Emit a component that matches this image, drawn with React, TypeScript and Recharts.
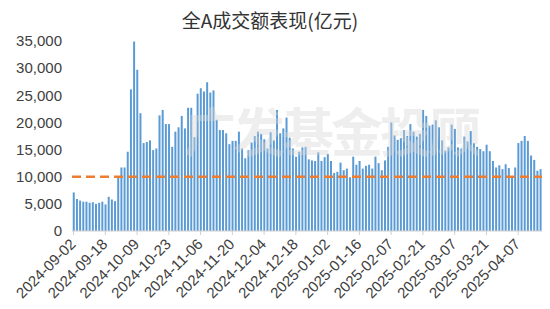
import React from 'react';
import { BarChart, Bar, XAxis, YAxis, ReferenceLine } from 'recharts';

const dates = [
  '2024-09-02', '2024-09-03', '2024-09-04', '2024-09-05', '2024-09-06', '2024-09-09', '2024-09-10', '2024-09-11', '2024-09-12', '2024-09-13',
  '2024-09-18', '2024-09-19', '2024-09-20', '2024-09-23', '2024-09-24', '2024-09-25', '2024-09-26', '2024-09-27', '2024-09-30', '2024-10-08',
  '2024-10-09', '2024-10-10', '2024-10-11', '2024-10-14', '2024-10-15', '2024-10-16', '2024-10-17', '2024-10-18', '2024-10-21', '2024-10-22',
  '2024-10-23', '2024-10-24', '2024-10-25', '2024-10-28', '2024-10-29', '2024-10-30', '2024-10-31', '2024-11-01', '2024-11-04', '2024-11-05',
  '2024-11-06', '2024-11-07', '2024-11-08', '2024-11-11', '2024-11-12', '2024-11-13', '2024-11-14', '2024-11-15', '2024-11-18', '2024-11-19',
  '2024-11-20', '2024-11-21', '2024-11-22', '2024-11-25', '2024-11-26', '2024-11-27', '2024-11-28', '2024-11-29', '2024-12-02', '2024-12-03',
  '2024-12-04', '2024-12-05', '2024-12-06', '2024-12-09', '2024-12-10', '2024-12-11', '2024-12-12', '2024-12-13', '2024-12-16', '2024-12-17',
  '2024-12-18', '2024-12-19', '2024-12-20', '2024-12-23', '2024-12-24', '2024-12-25', '2024-12-26', '2024-12-27', '2024-12-30', '2024-12-31',
  '2025-01-02', '2025-01-03', '2025-01-06', '2025-01-07', '2025-01-08', '2025-01-09', '2025-01-10', '2025-01-13', '2025-01-14', '2025-01-15',
  '2025-01-16', '2025-01-17', '2025-01-20', '2025-01-21', '2025-01-22', '2025-01-23', '2025-01-24', '2025-01-27', '2025-02-05', '2025-02-06',
  '2025-02-07', '2025-02-10', '2025-02-11', '2025-02-12', '2025-02-13', '2025-02-14', '2025-02-17', '2025-02-18', '2025-02-19', '2025-02-20',
  '2025-02-21', '2025-02-24', '2025-02-25', '2025-02-26', '2025-02-27', '2025-02-28', '2025-03-03', '2025-03-04', '2025-03-05', '2025-03-06',
  '2025-03-07', '2025-03-10', '2025-03-11', '2025-03-12', '2025-03-13', '2025-03-14', '2025-03-17', '2025-03-18', '2025-03-19', '2025-03-20',
  '2025-03-21', '2025-03-24', '2025-03-25', '2025-03-26', '2025-03-27', '2025-03-28', '2025-03-31', '2025-04-01', '2025-04-02', '2025-04-03',
  '2025-04-07', '2025-04-08', '2025-04-09', '2025-04-10', '2025-04-11', '2025-04-14', '2025-04-15', '2025-04-16',
];

// 全A成交额, 亿元
const turnover = [
  7100, 5900, 5600, 5400, 5400, 5200, 5300, 5000, 5200, 5400,
  4900, 6300, 5800, 5500, 10000, 11700, 11700, 14600, 26100, 34900,
  29700, 21700, 16200, 16400, 16700, 14900, 15200, 21300, 22300, 19700,
  19700, 15500, 18300, 19100, 21200, 18900, 22700, 22700, 17300, 25300,
  26300, 25700, 27400, 25500, 25900, 20500, 18600, 18600, 18000, 16000,
  16600, 16600, 18300, 15200, 13400, 14900, 16300, 17500, 18300, 17900,
  16900, 15200, 18200, 16700, 22300, 18000, 18900, 20900, 17200, 15200,
  13700, 14600, 15400, 15500, 13200, 13000, 12900, 14500, 12900, 13600,
  14200, 12900, 10700, 10900, 12600, 11200, 11500, 9900, 13700, 12200,
  12900, 11500, 12000, 12200, 11500, 13700, 12500, 11200, 13000, 15500,
  20000, 17600, 16800, 17100, 18600, 17500, 19700, 18300, 17400, 17900,
  22300, 21200, 19400, 19600, 20400, 19100, 16700, 14800, 15400, 19600,
  18800, 15400, 15200, 17400, 16500, 18400, 16200, 15500, 15100, 14700,
  15900, 14700, 12900, 11700, 12100, 11400, 12300, 11600, 9900, 11700,
  16200, 16600, 17500, 16600, 13900, 13100, 11100, 11400,
];

const yTicks = [0, 5000, 10000, 15000, 20000, 25000, 30000, 35000];
const threshold = 10000;

const data = dates.map((d, i) => ({ date: d, value: turnover[i] }));

const font = '"Liberation Sans", Arial, "Noto Sans CJK SC", sans-serif';

const DateTick = (props: any) => {
  const { x, y, payload } = props;
  const tx = x + 3;
  const ty = y + 8;
  return (
    <text x={tx} y={ty} textAnchor="end" fill="#404040" fontSize={15} fontFamily={font}
      transform={`rotate(-45, ${tx}, ${ty})`}>
      {payload.value}
    </text>
  );
};

export default function App() {
  return (
    <div style={{ position: 'absolute', left: 0, top: 0, width: 550, height: 309, background: '#fff', overflow: 'hidden' }}>
      <div style={{ position: 'absolute', left: 0, top: 6, width: 540, textAlign: 'center', fontSize: 19, color: '#333', fontFamily: '"Noto Sans CJK SC", sans-serif' }}>
        全A成交额表现(亿元)
      </div>
      <BarChart width={550} height={309} data={data} margin={{ top: 41, right: 8, bottom: 0, left: 2 }} barCategoryGap="24%">
        <XAxis dataKey="date" interval={9} height={78} tick={<DateTick />} tickSize={4}
          axisLine={{ stroke: '#d0d0d0' }} tickLine={{ stroke: '#d0d0d0' }} />
        <YAxis domain={[0, 35000]} ticks={yTicks} width={70} axisLine={false} tickLine={false} tickMargin={4}
          tickFormatter={(v: number) => v.toLocaleString('en-US')}
          tick={{ fill: '#404040', fontSize: 15, fontFamily: font }} />
        <Bar dataKey="value" fill="#5b9bd5" isAnimationActive={false} />
        <ReferenceLine y={threshold} stroke="#ed7d31" strokeWidth={2.5} strokeDasharray="9 5" />
      </BarChart>
      <div style={{ position: 'absolute', left: 184, top: 92, fontSize: 52, fontWeight: 700, letterSpacing: -3, color: 'rgba(215,215,215,0.42)', fontFamily: '"Noto Sans CJK SC", sans-serif', pointerEvents: 'none', whiteSpace: 'nowrap' }}>
        广发基金投顾
      </div>
    </div>
  );
}
